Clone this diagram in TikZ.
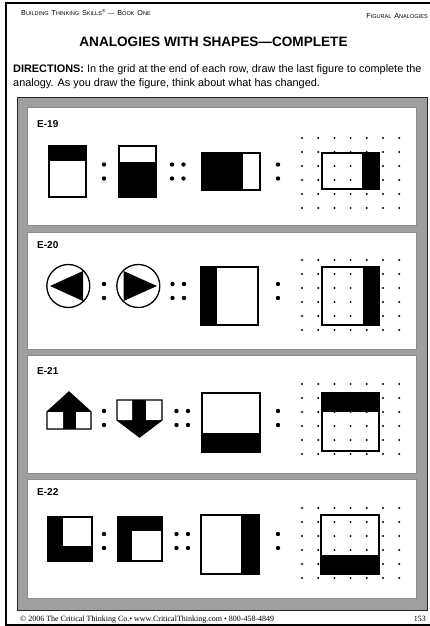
\documentclass[tikz,border=0pt]{standalone}
\usepackage{fontspec}
\setmainfont{Liberation Sans}
\newfontfamily\timesfont{Liberation Serif}
\newcommand{\smcap}[2]{{\fontsize{7.2}{8}\selectfont #1}{\fontsize{5.6}{6}\selectfont #2}}

\begin{document}
\begin{tikzpicture}[x=1pt, y=-1pt,
	fig/.style={line width=1.3pt},
	panel/.style={fill=white, draw=gray!90, line width=0.8pt},
	lab/.style={anchor=base west, inner sep=0pt, font=\bfseries\fontsize{10}{12}\selectfont},
	txt/.style={anchor=base west, inner sep=0pt, font=\fontsize{10.9}{12}\selectfont}]
	\useasboundingbox (0,0) rectangle (430,626);
	% Khung trang
	\draw[line width=2pt] (430,3) -- (6,3) -- (6,626);
	\draw[line width=1.6pt] (6,625) -- (430,625);
	% Dòng đầu trang
	\node[anchor=base west, inner sep=0pt] (header) at (21,15.3) {\smcap{B}{UILDING} \smcap{T}{HINKING} \smcap{S}{KILLS}\raisebox{2.8pt}{\fontsize{4.5}{5}\selectfont ®} {\fontsize{6.5}{7}\selectfont —} \smcap{B}{OOK} \smcap{O}{NE}};
	\node[anchor=base east, inner sep=0pt] (section) at (428,18.3) {\smcap{F}{IGURAL} \smcap{A}{NALOGIES}};
	% Tiêu đề và hướng dẫn
	\node[anchor=base, inner sep=0pt, font=\bfseries\fontsize{13.6}{16}\selectfont] (title) at (213.5,46.7) {ANALOGIES WITH SHAPES—COMPLETE};
	\node[txt] (dir1) at (13,72.5) {\textbf{DIRECTIONS:} In the grid at the end of each row, draw the last figure to complete the};
	\node[txt] (dir2) at (13,86.5) {analogy. As you draw the figure, think about what has changed.};
	% Khung xám và các ô
	\draw[fill=gray!75, draw=black!85, line width=0.9pt] (17,97) rectangle (427,610);
	\foreach \t/\b in {107/225, 232/349, 355/473, 479/598} {
	\draw[panel] (27,\t) rectangle (416,\b);
	}
	% Nhãn các bài
	\foreach \i/\y in {19/127.3, 20/248.3, 21/374, 22/495.7} {
	\node[lab] (lab\i) at (37,\y) {E-\i};
	}
	% Dấu hai chấm và lưới chấm
	\foreach \cy/\dx/\gy in {171.5/0/138, 291/0.5/260, 418/4.5/384, 541/4.5/508} {
	\foreach \x in {104, 278} {
	\fill (\x,\cy-7) circle (2.2) (\x,\cy+7) circle (2.2);
	}
	\foreach \x in {172, 183.5} {
	\fill (\x+\dx,\cy-7) circle (2.2) (\x+\dx,\cy+7) circle (2.2);
	}
	\foreach \i in {0,...,6} {
	\foreach \j in {0,...,5} {
	\fill (302+16.2*\i,\gy+14*\j) circle (1.1);
	}
	}
	}
	% E-19
	\fill (49,146) rectangle (86,161);
	\draw[fig] (49,146) rectangle (86,197);
	\fill (119,162) rectangle (156,197);
	\draw[fig] (119,146) rectangle (156,197);
	\fill (202,153) rectangle (243,190);
	\draw[fig] (202,153) rectangle (260,190);
	\fill (362,153) rectangle (379,189);
	\draw[fig] (322,153) rectangle (379,189);
	% E-20
	\draw[fig] (68.3,286) circle (21.5);
	\fill (50,286) -- (83,271) -- (83,301) -- cycle;
	\draw[fig] (138.3,286) circle (21.5);
	\fill (157,286) -- (123.5,271) -- (123.5,301) -- cycle;
	\fill (201,267) rectangle (217,325);
	\draw[fig] (201,267) rectangle (258,325);
	\fill (363,267) rectangle (379,325);
	\draw[fig] (322,267) rectangle (379,325);
	% E-21
	\fill (47,412) -- (69,392) -- (91,412) -- (91,429) -- (47,429) -- cycle;
	\fill[white] (47,412) rectangle (63,429) (76,412) rectangle (91,429);
	\draw[fig] (47,412) -- (69,392) -- (91,412) -- (91,429) -- (47,429) -- cycle;
	\fill (117,400) -- (162,400) -- (162,420) -- (139.5,437) -- (117,420) -- cycle;
	\fill[white] (117,400) rectangle (132,420) (146,400) rectangle (162,420);
	\draw[fig] (117,400) -- (162,400) -- (162,420) -- (139.5,437) -- (117,420) -- cycle;
	\fill (202,433) rectangle (260,452);
	\draw[fig] (202,393) rectangle (260,452);
	\fill (322,393) rectangle (379,412);
	\draw[fig] (322,393) rectangle (379,451);
	% E-22
	\fill (48,517) rectangle (92,561);
	\fill[white] (63,518) rectangle (91,546);
	\draw[fig] (48,517) rectangle (92,561);
	\fill (118,517) rectangle (162,561);
	\fill[white] (132,531) rectangle (161,560);
	\draw[fig] (118,517) rectangle (162,561);
	\fill (241,515) rectangle (259,574);
	\draw[fig] (201,515) rectangle (259,574);
	\fill (321,555) rectangle (379,574);
	\draw[fig] (321,515) rectangle (379,574);
	% Chân trang
	\node[anchor=base west, inner sep=0pt, font=\timesfont\fontsize{8}{9}\selectfont] (footer) at (20,621) {© 2006 The Critical Thinking Co.• www.CriticalThinking.com • 800-458-4849};
	\node[anchor=base east, inner sep=0pt, font=\timesfont\fontsize{8}{9}\selectfont] (pageno) at (426,621) {153};
\end{tikzpicture}
\end{document}
